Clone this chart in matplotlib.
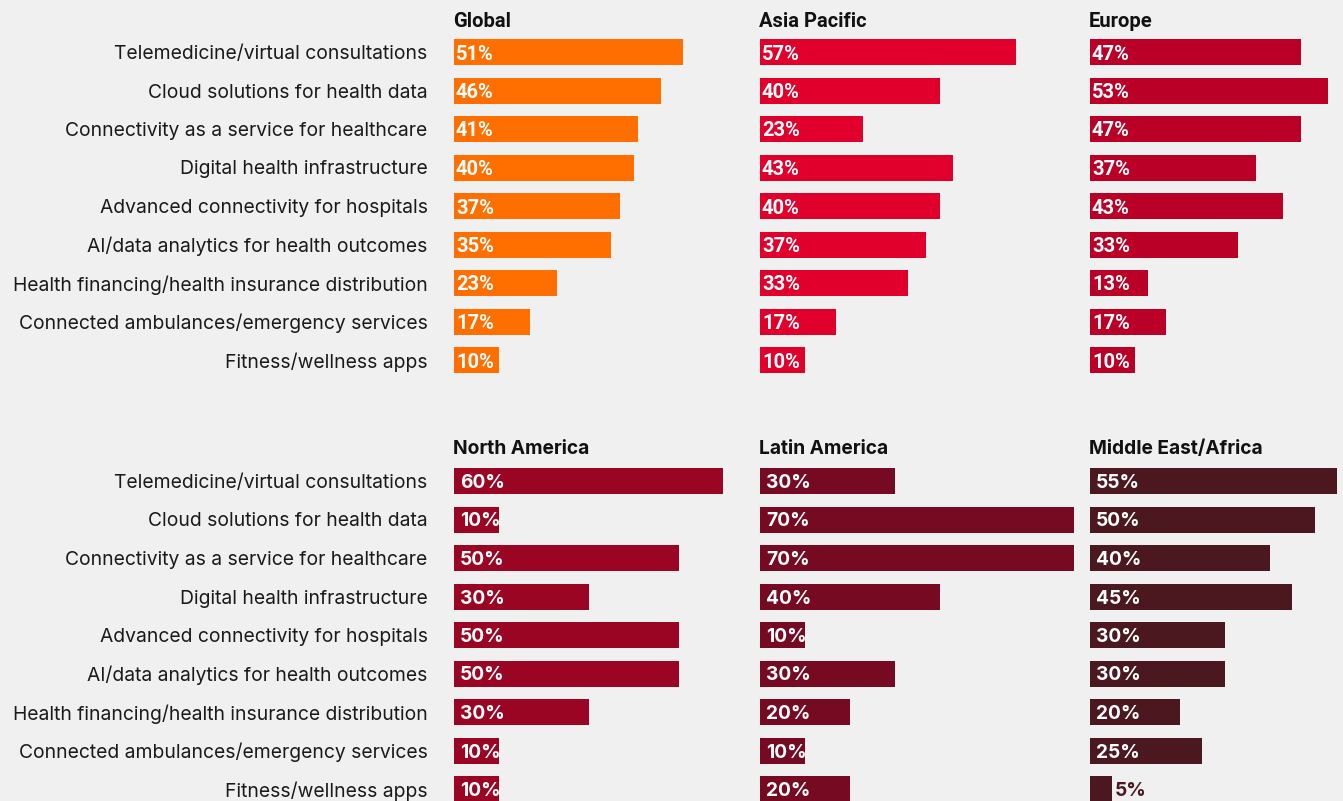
import numpy as np
import matplotlib.pyplot as plt

W, H = 1343, 801
BG = "#F0F0F0"

categories = [
    "Telemedicine/virtual consultations",
    "Cloud solutions for health data",
    "Connectivity as a service for healthcare",
    "Digital health infrastructure",
    "Advanced connectivity for hospitals",
    "AI/data analytics for health outcomes",
    "Health financing/health insurance distribution",
    "Connected ambulances/emergency services",
    "Fitness/wellness apps",
]

regions = ["Global", "Asia Pacific", "Europe",
           "North America", "Latin America", "Middle East/Africa"]

global_vals = [51, 46, 41, 40, 37, 35, 23, 17, 10]
asia_vals = [57, 40, 23, 43, 40, 37, 33, 17, 10]
europe_vals = [47, 53, 47, 37, 43, 33, 13, 17, 10]
namerica_vals = [60, 10, 50, 30, 50, 50, 30, 10, 10]
latam_vals = [30, 70, 70, 40, 10, 30, 20, 10, 20]
mea_vals = [55, 50, 40, 45, 30, 30, 20, 25, 5]

values = [global_vals, asia_vals, europe_vals, namerica_vals, latam_vals, mea_vals]
colors = ["#FF6F00", "#E0002B", "#BA0027", "#990522", "#750A22", "#4C1820"]

PX_PER_PCT = 4.49
ROW = 38.5
BAR_H = 26 / ROW

# panel layout in pixels
lefts = [454, 760, 1090]
widths = [290, 320, 253]
row0 = [52, 481]

fig = plt.figure(figsize=(W / 100, H / 100), dpi=100, facecolor=BG)

for k, (name, vals, col) in enumerate(zip(regions, values, colors)):
    r, c = divmod(k, 3)
    top_px = row0[r] - ROW / 2
    h_px = ROW * len(categories)
    ax = fig.add_axes([lefts[c] / W, 1 - (top_px + h_px) / H, widths[c] / W, h_px / H])
    ax.set_facecolor("none")
    y = np.arange(len(categories))
    ax.barh(y, vals, height=BAR_H, color=col)
    ax.set_xlim(0, widths[c] / PX_PER_PCT)
    ax.set_ylim(len(categories) - 0.5, -0.5)
    for s in ax.spines.values():
        s.set_visible(False)
    ax.set_xticks([])
    if r == 0:
        fam, pfs, tfs, toff = "Roboto", 14.5, 14.5, 2
    else:
        fam, pfs, tfs, toff = "Inter", 13.8, 13.8, 4
    if c == 0:
        ax.set_yticks(y, categories, fontsize=13.9, color="#1a1a1a", family="Inter")
        ax.tick_params(axis="y", length=0, pad=19)
    else:
        ax.set_yticks([])
    ax.annotate(name, xy=(0, 1), xycoords="axes fraction", xytext=(-1, toff),
                textcoords="offset pixels", ha="left", va="bottom",
                fontsize=tfs, fontweight="bold", color="#111111", family=fam)
    for yi, v in zip(y, vals):
        if v >= 8:
            ax.annotate(f"{v}%", xy=(0, yi), xytext=(2 if r == 0 else 6, -2),
                        textcoords="offset pixels", ha="left", va="center",
                        fontsize=pfs, fontweight="bold", color="white", family=fam)
        else:
            ax.annotate(f"{v}%", xy=(v, yi), xytext=(2, -2),
                        textcoords="offset pixels", ha="left", va="center",
                        fontsize=pfs, fontweight="bold", color=col, family=fam)

fig.savefig("out.png", dpi=100, facecolor=BG)
